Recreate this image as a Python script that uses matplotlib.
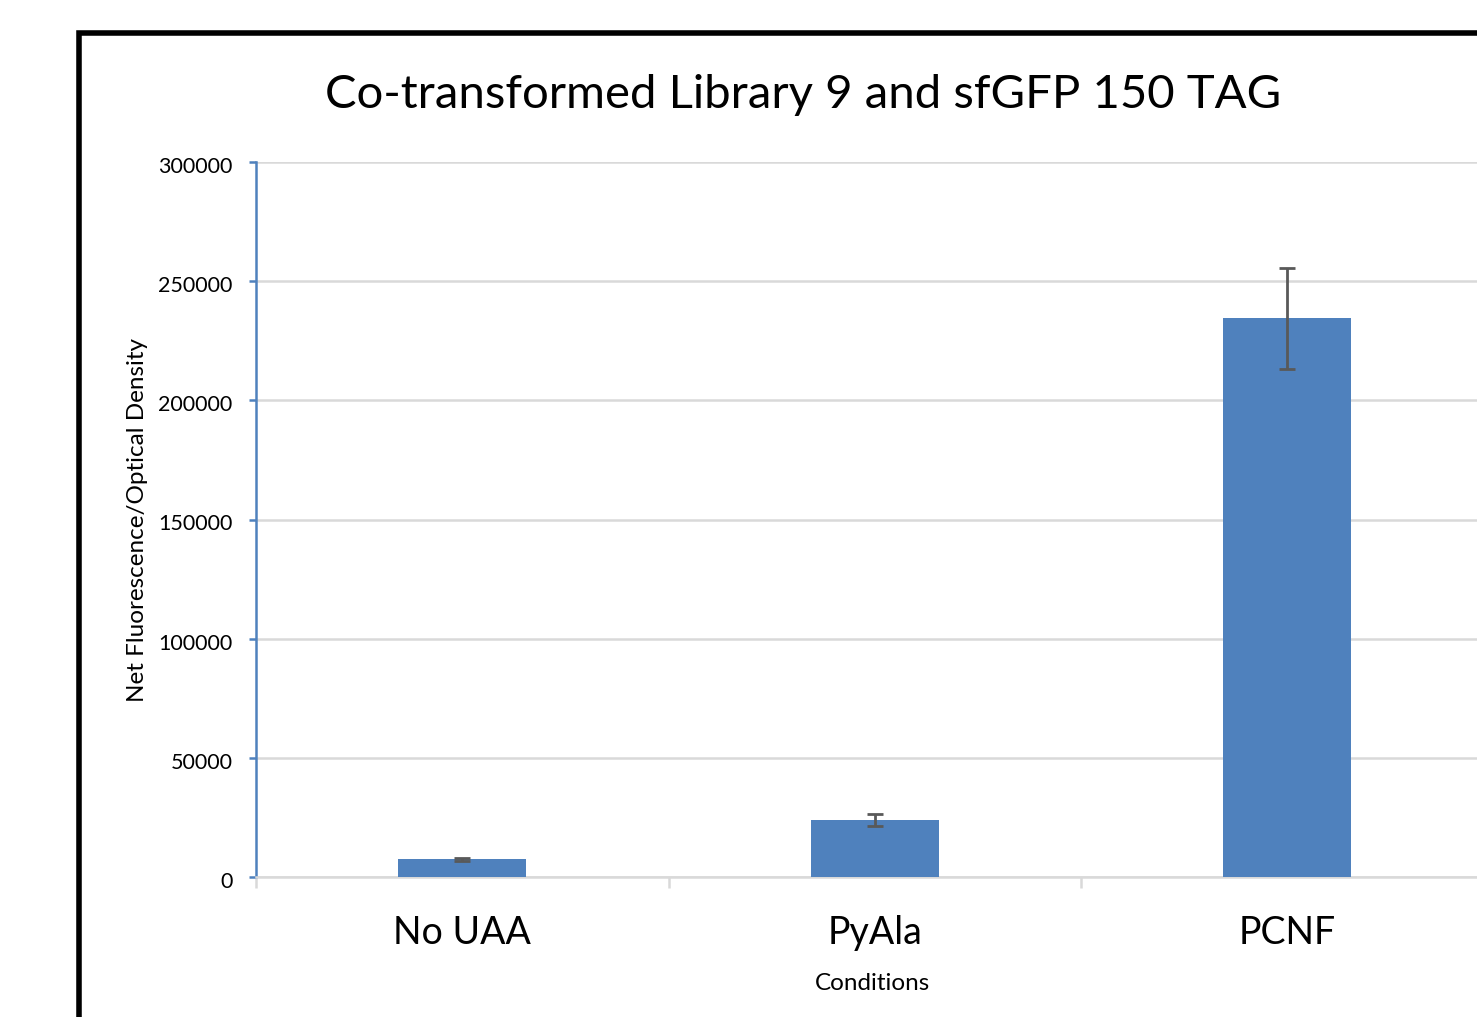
import matplotlib
matplotlib.use("Agg")
import matplotlib.pyplot as plt
import matplotlib.transforms as mtransforms
from matplotlib.patches import Rectangle

categories = ["No UAA", "PyAla", "PCNF"]
values = [7400, 23900, 234400]
errors = [600, 2700, 21200]
yticks = [0, 50000, 100000, 150000, 200000, 250000, 300000]

plt.rcParams['font.family'] = ['Lato', 'DejaVu Sans']

W, H = 1477, 1017
fig = plt.figure(figsize=(W / 100, H / 100), dpi=100)

# outer black frame (extends beyond figure on right and bottom)
fig.patches.append(Rectangle((78.5 / W, -0.1), 1.2, (H - 33) / H + 0.1,
                             transform=fig.transFigure, fill=False,
                             edgecolor='black', linewidth=4))

left, bottom_px, top_px = 256, 877, 162
cat_w = 412.5
ax = fig.add_axes([left / W, (H - bottom_px) / H, 3 * cat_w / W, (bottom_px - top_px) / H])

x = list(range(len(categories)))
ax.bar(x, values, width=0.31, color='#4f81bd', zorder=3)
ax.errorbar(x, values, yerr=errors, fmt='none', ecolor='#595959', elinewidth=2,
            capsize=6, capthick=2, zorder=4)

ax.set_xlim(-0.5, 2.5)
ax.set_ylim(0, 300000)
ax.set_yticks(yticks)
ax.set_yticklabels([str(v) for v in yticks], fontsize=15.5)
ax.yaxis.grid(True, color='#d9d9d9', linewidth=1.8, zorder=0)
ax.set_axisbelow(True)

ax.set_xticks([-0.5, 0.5, 1.5, 2.5])
ax.set_xticklabels([])
ax.tick_params(axis='x', length=8, width=1.8, color='#d9d9d9', direction='out')
ax.tick_params(axis='y', length=5, width=1.8, color='#4f81bd', direction='out', pad=12)
offset = mtransforms.ScaledTranslation(0, -3 / 100, fig.dpi_scale_trans)
for lbl in ax.get_yticklabels():
    lbl.set_transform(lbl.get_transform() + offset)
for i, c in enumerate(categories):
    ax.text(i, -0.053, c, transform=ax.get_xaxis_transform(), ha='center', va='top',
            fontsize=27)

for s in ['top', 'right']:
    ax.spines[s].set_visible(False)
ax.spines['left'].set_color('#4f81bd')
ax.spines['left'].set_linewidth(1.8)
ax.spines['bottom'].set_color('#d9d9d9')
ax.spines['bottom'].set_linewidth(1.8)

fig.text(137 / W, 1 - 520 / H, "Net Fluorescence/Optical Density", rotation=90,
         ha='center', va='center', fontsize=17.5)
fig.text(873 / W, 1 - 984 / H, "Conditions", ha='center', va='center', fontsize=17.5)
fig.text(803 / W, 1 - 95 / H, "Co-transformed Library 9 and sfGFP 150 TAG",
         ha='center', va='center', fontsize=34)

fig.savefig("out.png", dpi=100)
